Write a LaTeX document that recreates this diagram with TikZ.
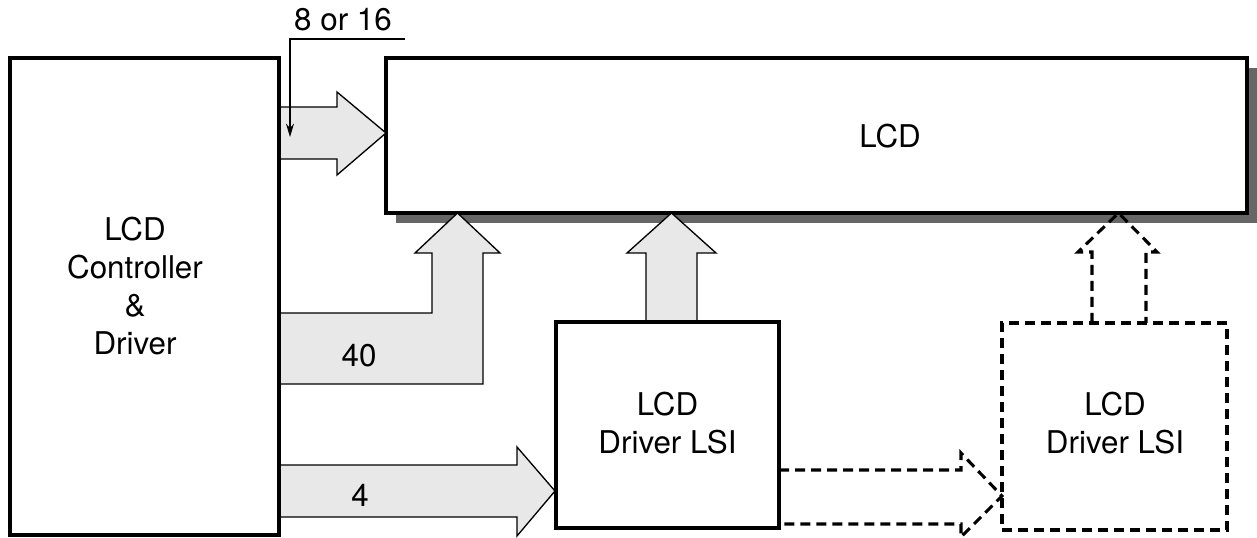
\documentclass[tikz,border=0pt]{standalone}
\usepackage{fontspec}
\setmainfont{TeX Gyre Heros}
\usetikzlibrary{arrows.meta}
\begin{document}
\begin{tikzpicture}[x=0.75pt,y=-0.75pt,
  boxstyle/.style={draw=black,line width=2.3pt,inner sep=0pt,outer sep=0pt},
  dbox/.style={draw=black,line width=2.3pt,dash pattern=on 7.5pt off 4.5pt,inner sep=0pt,outer sep=0pt},
  barrow/.style={draw=black,fill=black!9,line width=1pt,line join=miter},
  darrow/.style={draw=black,line width=2.3pt,dash pattern=on 7.5pt off 4.5pt},
  txt/.style={font=\fontsize{23.5}{28.5}\selectfont,align=center,inner sep=0pt},
  lead/.style={draw=black,line width=0.8pt,-{Stealth[length=10pt,width=6pt]}}]
\useasboundingbox (0,0) rectangle (1257,538);
% shadow and LCD panel
\fill[black!60] (396,68) rectangle (1257,223);
\node[boxstyle,fill=white,minimum width=645.75pt,minimum height=116.25pt] (lcd) at (816.5,135.5) {};
\node[txt] (lcdtxt) at (890,136) {LCD};
% block arrows
\draw[barrow] (279,107) -- (337,107) -- (337,92) -- (386,133) -- (337,175) -- (337,159) -- (279,159) -- cycle;
\draw[barrow] (279,313) -- (432,313) -- (432,253) -- (415,253) -- (457.5,213) -- (500,253) -- (483,253) -- (483,384) -- (279,384) -- cycle;
\draw[barrow] (646,322) -- (646,253) -- (627,253) -- (671.5,213) -- (716,253) -- (697,253) -- (697,322) -- cycle;
\draw[barrow] (279,465) -- (517,465) -- (517,447) -- (555,491) -- (517,536) -- (517,517) -- (279,517) -- cycle;
% dashed arrows
\draw[darrow] (779,470) -- (961,470) -- (961,453) -- (1002,496) -- (961,537) -- (961,524) -- (779,524);
\draw[darrow] (1092,323) -- (1092,252) -- (1078,252) -- (1118.5,213) -- (1157,252) -- (1146,252) -- (1146,323);
% boxes
\node[boxstyle,minimum width=201.75pt,minimum height=357.75pt] (ctrl) at (144.5,296.5) {};
\node[txt] (ctrltxt) at (135,286) {LCD\\Controller\\\&\\Driver};
\node[boxstyle,fill=white,minimum width=167.25pt,minimum height=154.5pt] (lsi) at (667.5,425) {};
\node[txt] (lsitxt) at (667.5,423.5) {LCD\\Driver LSI};
\node[dbox,minimum width=168.75pt,minimum height=155.25pt] (lsi2) at (1114.5,426.5) {};
\node[txt] (lsi2txt) at (1115,423.5) {LCD\\Driver LSI};
% labels
\node[txt] (l40) at (359,356) {40};
\node[txt] (l4) at (360,495) {4};
\node[txt] (l816) at (343,20) {8 or 16};
\coordinate (ls) at (405,39);
\coordinate (lc) at (290,39);
\coordinate (le) at (290,137);
\draw[lead] (ls) -- (lc) -- (le);
\end{tikzpicture}
\end{document}
